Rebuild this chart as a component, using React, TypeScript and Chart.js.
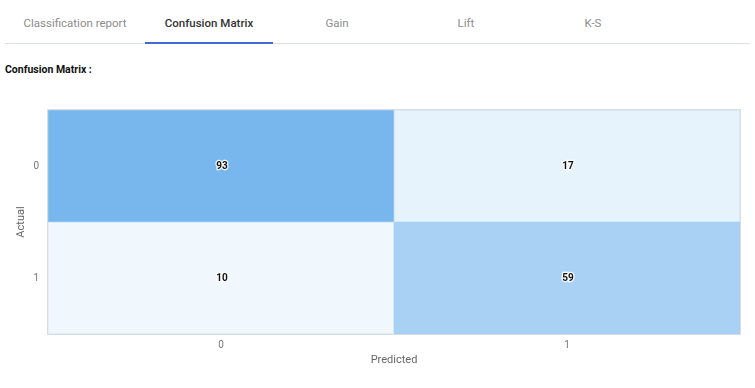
import React, { useEffect, useRef } from "react";
import { Chart, registerables } from "chart.js";

Chart.register(...registerables);

const tabs = ["Classification report", "Confusion Matrix", "Gain", "Lift", "K-S"];
const activeTab = 1;
const predictedLabels = ["0", "1"];
const actualLabels = ["0", "1"];
const row0Values = [93, 17];
const row1Values = [10, 59];
const matrix = [row0Values, row1Values];

const BASE = [120, 183, 238];
const maxVal = Math.max(...matrix.flat());
function shade(v: number, a = 1) {
  const t = v / maxVal;
  const c = BASE.map((b) => Math.round(255 - t * (255 - b)));
  return `rgba(${c[0]},${c[1]},${c[2]},${a})`;
}

const tabCenters = [75, 209, 337, 466, 593];
const tabWidths = [140, 128, 128, 128, 128];

export default function App() {
  const ref = useRef<HTMLCanvasElement>(null);
  useEffect(() => {
    if (!ref.current) return;
    const labelPlugin = {
      id: "cellLabels",
      afterDatasetsDraw(chart: any) {
        const { ctx, chartArea } = chart;
        ctx.save();
        ctx.strokeStyle = "#d9dde3";
        ctx.lineWidth = 1;
        ctx.strokeRect(chartArea.left - 0.5, chartArea.top - 0.5, chartArea.right - chartArea.left + 1, chartArea.bottom - chartArea.top + 1);
        ctx.font = "bold 10px Roboto, 'Noto Sans', sans-serif";
        ctx.textAlign = "center";
        ctx.textBaseline = "middle";
        chart.data.datasets.forEach((ds: any, di: number) => {
          const meta = chart.getDatasetMeta(di);
          meta.data.forEach((el: any, i: number) => {
            const txt = String(matrix[di][i]);
            const x = el.x + 1;
            const y = (el.y + el.base) / 2;
            ctx.lineWidth = 2.5;
            ctx.strokeStyle = "rgba(255,255,255,0.9)";
            ctx.strokeText(txt, x, y);
            ctx.fillStyle = "#111";
            ctx.fillText(txt, x, y);
          });
        });
        ctx.restore();
      },
    };
    const chart = new Chart(ref.current, {
      type: "bar",
      data: {
        labels: predictedLabels,
        datasets: matrix.map((row, r) => ({
          label: actualLabels[r],
          data: row.map(() => [r, r + 1]) as any,
          backgroundColor: row.map((v) => shade(v)),
          borderColor: row.map((v) => shade(Math.min(maxVal, v + 20), 0.8)),
          borderWidth: 1,
          borderSkipped: false,
          barPercentage: 1,
          categoryPercentage: 1,
          grouped: false,
        })),
      },
      options: {
        responsive: false,
        animation: false,
        devicePixelRatio: 1,
        layout: { padding: { left: 0, right: 10, top: 15, bottom: 0 } },
        plugins: { legend: { display: false }, tooltip: { enabled: false } },
        scales: {
          x: {
            grid: { display: false },
            border: { display: false },
            ticks: { color: "#777", font: { size: 10, family: "Roboto, 'Noto Sans', sans-serif" }, padding: -3 },
            title: { display: true, text: "Predicted", color: "#666", font: { size: 11, family: "Roboto, 'Noto Sans', sans-serif" }, padding: { top: 0, bottom: 3 } },
            afterFit: (s: any) => { s.height = 36; },
          },
          y: {
            min: 0,
            max: 2,
            reverse: true,
            grid: { display: false },
            border: { display: false },
            afterBuildTicks: (s: any) => { s.ticks = actualLabels.map((_, i) => ({ value: i + 0.5 })); },
            ticks: {
              color: "#777",
              font: { size: 10, family: "Roboto, 'Noto Sans', sans-serif" },
              padding: 1,
              callback: (v: any) => actualLabels[Math.round(Number(v) - 0.5)] ?? "",
            },
            title: { display: true, text: "Actual", color: "#666", font: { size: 11, family: "Roboto, 'Noto Sans', sans-serif" }, padding: { top: 10, bottom: 0 } },
            afterFit: (s: any) => { s.width = 43; },
          },
        },
      },
      plugins: [labelPlugin],
    });
    return () => chart.destroy();
  }, []);

  const font = "Roboto, 'Noto Sans', sans-serif";
  return (
    <div style={{ position: "absolute", left: 0, top: 0, width: 755, height: 388, background: "#fff", fontFamily: font, overflow: "hidden" }}>
      {tabs.map((t, i) => (
        <div
          key={t}
          style={{
            position: "absolute",
            left: tabCenters[i] - tabWidths[i] / 2,
            width: tabWidths[i],
            top: 14,
            height: 18,
            lineHeight: "18px",
            textAlign: "center",
            fontSize: 11.5,
            color: i === activeTab ? "#333" : "#8c8c8c",
            fontWeight: i === activeTab ? 500 : 400,
          }}
        >
          {t}
        </div>
      ))}
      <div style={{ position: "absolute", left: 5, top: 43, width: 745, height: 1, background: "#dcdff0" }} />
      <div style={{ position: "absolute", left: 145, top: 42, width: 128, height: 2, background: "#3f6ad8" }} />
      <div style={{ position: "absolute", left: 5, top: 63, fontSize: 10.5, fontWeight: 700, color: "#111", lineHeight: "14px" }}>Confusion Matrix :</div>
      <div style={{ position: "absolute", left: 5, top: 95, width: 745, height: 275 }}>
        <canvas ref={ref} width={745} height={275} style={{ display: "block", width: 745, height: 275 }} />
      </div>
    </div>
  );
}
